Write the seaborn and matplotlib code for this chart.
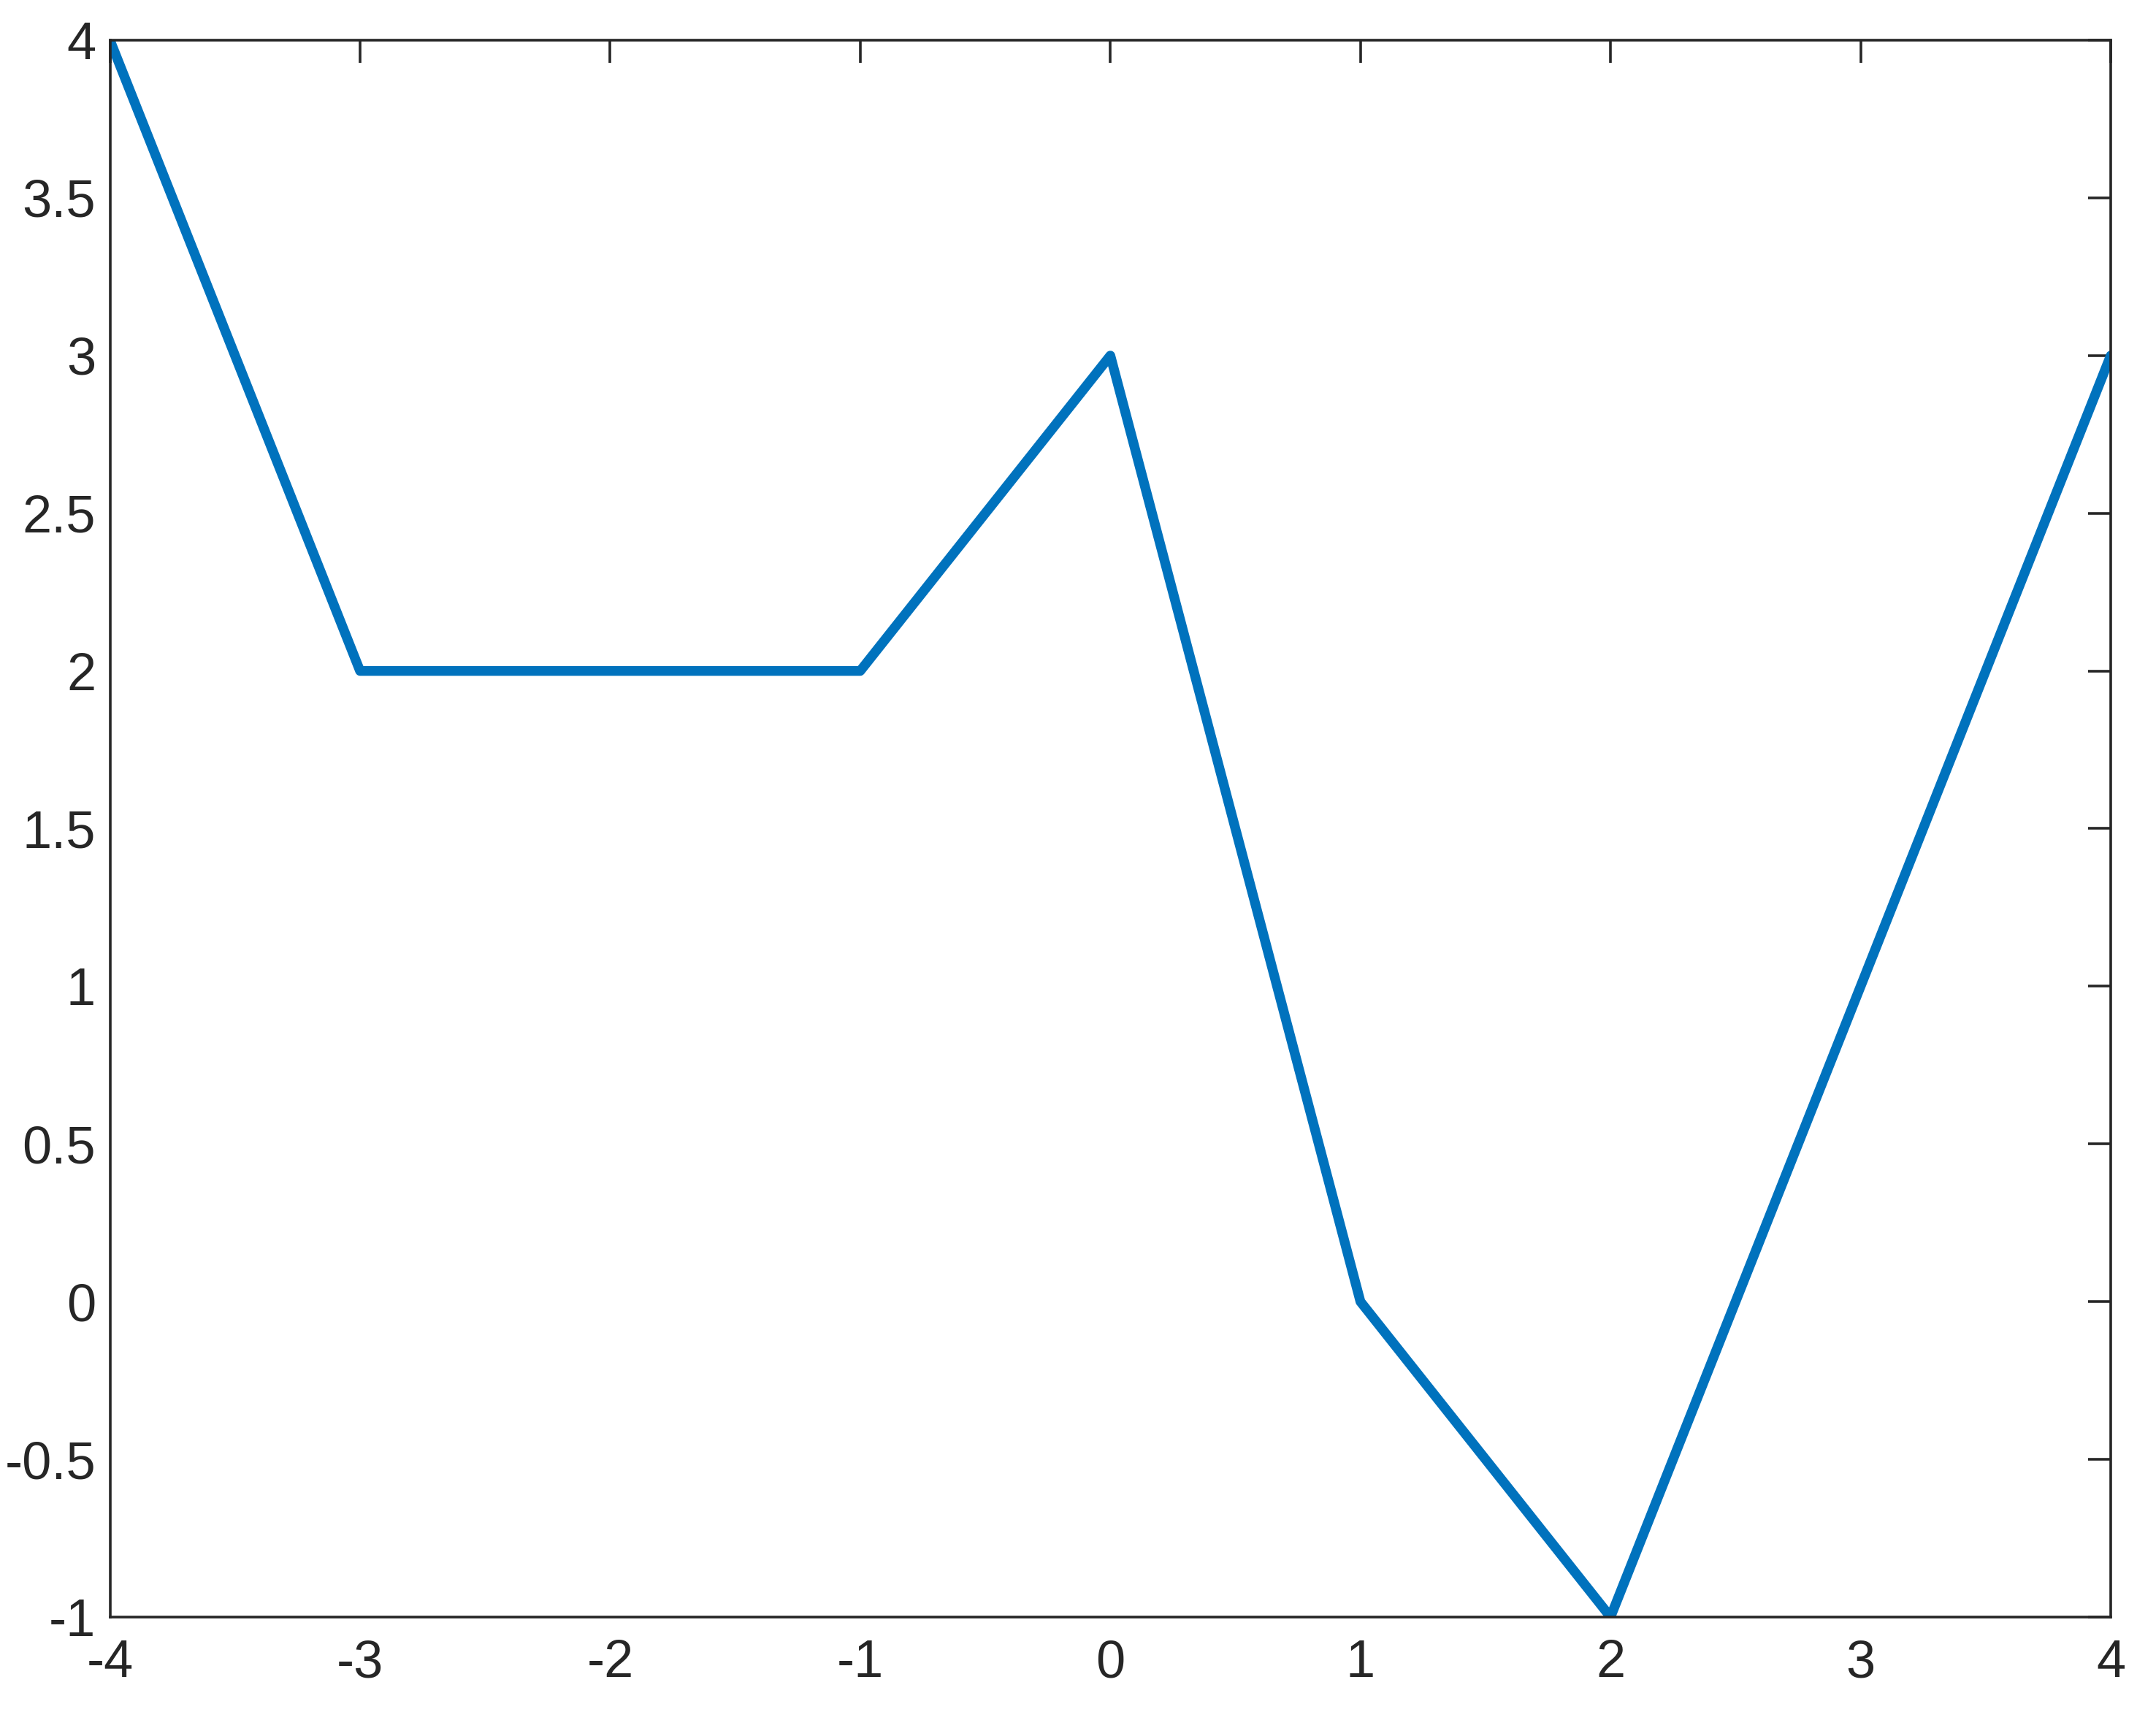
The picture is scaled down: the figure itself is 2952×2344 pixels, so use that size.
import numpy as np
import pandas as pd
import seaborn as sns
import matplotlib.pyplot as plt

# datos de la curva
x_vals = [-4, -3, -2, -1, 0, 1, 2, 3, 4]
y_vals = [4, 2, 2, 2, 3, 0, -1, 1, 3]
x_ticks = [-4, -3, -2, -1, 0, 1, 2, 3, 4]
y_ticks = [-1, -0.5, 0, 0.5, 1, 1.5, 2, 2.5, 3, 3.5, 4]
y_labels = ["-1", "-0.5", "0", "0.5", "1", "1.5", "2", "2.5", "3", "3.5", "4"]

df = pd.DataFrame({"x": x_vals, "y": y_vals})

sns.set_style("white")
plt.rcParams["font.family"] = ["Liberation Sans", "DejaVu Sans"]

fig = plt.figure(figsize=(14.76, 11.72), dpi=200)
ax = fig.add_axes([0.051, 0.0555, 0.928, 0.921])
sns.lineplot(data=df, x="x", y="y", color="#0072BD", linewidth=4.8, ax=ax)

ax.set_xlim(-4, 4)
ax.set_ylim(-1, 4)
ax.set_xticks(x_ticks)
ax.set_xticklabels([str(v) for v in x_ticks])
ax.set_yticks(y_ticks)
ax.set_yticklabels(y_labels)
ax.set_xlabel("")
ax.set_ylabel("")

for s in ax.spines.values():
    s.set_visible(True)
    s.set_color("#262626")
    s.set_linewidth(1.3)

ax.tick_params(direction="in", length=11, width=1.3, color="#262626",
               top=True, right=True, labelsize=26, labelcolor="#262626")
ax.tick_params(axis="x", pad=11)
ax.tick_params(axis="y", pad=7)

fig.savefig("out.png", dpi=200, facecolor="white")
plt.close()
